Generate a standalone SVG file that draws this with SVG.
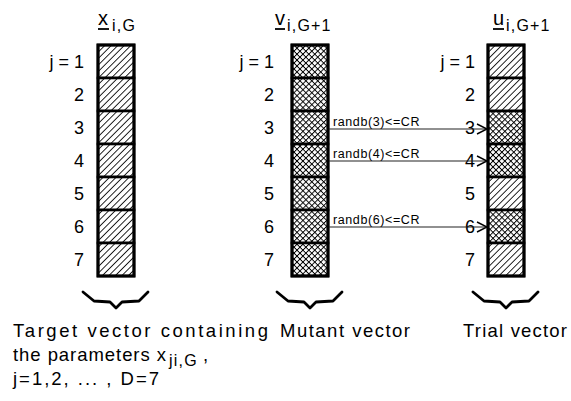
<svg xmlns="http://www.w3.org/2000/svg" width="571" height="401" viewBox="0 0 571 401">
<style>
text{font-family:"Liberation Sans",Arial,sans-serif;fill:#000}
.row{font-size:18px;text-anchor:end}
.hd{font-size:20px}
.sub{font-size:16px;letter-spacing:1.2px}
.cap{font-size:18.5px}
.rl{font-size:12.5px;letter-spacing:0.6px}
.cell{stroke:#000;stroke-width:2.6}
.outer{fill:none;stroke:#000;stroke-width:3}
.brace{fill:none;stroke:#000;stroke-width:2.8;stroke-linejoin:round;stroke-linecap:round}
.conn{stroke:#222;stroke-width:1.1;fill:none}
.head{fill:none;stroke:#000;stroke-width:1.4}
.ul{stroke:#000;stroke-width:1.8}
</style>
<defs>
<pattern id="hatch" width="4.6" height="4.6" patternUnits="userSpaceOnUse" patternTransform="rotate(45)">
<rect width="4.6" height="4.6" fill="#fff"/>
<line x1="0" y1="0" x2="0" y2="4.6" stroke="#000" stroke-width="1.7"/>
</pattern>
<pattern id="cross" width="4.2" height="4.2" patternUnits="userSpaceOnUse" patternTransform="rotate(45)">
<rect width="4.2" height="4.2" fill="#fff"/>
<line x1="0" y1="0" x2="0" y2="4.2" stroke="#000" stroke-width="1.9"/>
<line x1="0" y1="0" x2="4.2" y2="0" stroke="#000" stroke-width="1.9"/>
</pattern>
</defs>

<g id="target">
<text class="hd" x="98" y="25">x</text>
<line class="ul" x1="98" y1="29" x2="109" y2="29"/>
<text class="sub" x="112" y="31">i,G</text>
<rect class="cell" x="98" y="45" width="36" height="33" fill="url(#hatch)"/>
<rect class="cell" x="98" y="78" width="36" height="33" fill="url(#hatch)"/>
<rect class="cell" x="98" y="111" width="36" height="33" fill="url(#hatch)"/>
<rect class="cell" x="98" y="144" width="36" height="33" fill="url(#hatch)"/>
<rect class="cell" x="98" y="177" width="36" height="33" fill="url(#hatch)"/>
<rect class="cell" x="98" y="210" width="36" height="33" fill="url(#hatch)"/>
<rect class="cell" x="98" y="243" width="36" height="33" fill="url(#hatch)"/>
<rect class="outer" x="98" y="45" width="36" height="231"/>
<text class="row" x="84" y="68">j = 1</text>
<text class="row" x="84" y="101">2</text>
<text class="row" x="84" y="134">3</text>
<text class="row" x="84" y="167">4</text>
<text class="row" x="84" y="200">5</text>
<text class="row" x="84" y="233">6</text>
<text class="row" x="84" y="266">7</text>
<polyline class="brace" points="83,292 94,301 110,302 116,308 122,302 139,301 148,292"/>
<text class="cap" x="13" y="337" textLength="255" lengthAdjust="spacing">Target vector containing</text>
<text class="cap" x="13" y="361" textLength="153" lengthAdjust="spacing">the parameters x</text>
<text class="sub" x="169" y="366" letter-spacing="0.4">ji,G</text>
<text class="cap" x="203" y="361">,</text>
<text class="cap" x="13" y="385" textLength="146" lengthAdjust="spacing">j=1,2, ... , D=7</text>
</g>

<g id="mutant">
<text class="hd" x="275" y="25">v</text>
<line class="ul" x1="275" y1="29" x2="285" y2="29"/>
<text class="sub" x="287" y="31">i,G+1</text>
<rect class="cell" x="292" y="45" width="36" height="33" fill="url(#cross)"/>
<rect class="cell" x="292" y="78" width="36" height="33" fill="url(#cross)"/>
<rect class="cell" x="292" y="111" width="36" height="33" fill="url(#cross)"/>
<rect class="cell" x="292" y="144" width="36" height="33" fill="url(#cross)"/>
<rect class="cell" x="292" y="177" width="36" height="33" fill="url(#cross)"/>
<rect class="cell" x="292" y="210" width="36" height="33" fill="url(#cross)"/>
<rect class="cell" x="292" y="243" width="36" height="33" fill="url(#cross)"/>
<rect class="outer" x="292" y="45" width="36" height="231" stroke-width="3.6"/>
<text class="row" x="274" y="68">j = 1</text>
<text class="row" x="274" y="101">2</text>
<text class="row" x="274" y="134">3</text>
<text class="row" x="274" y="167">4</text>
<text class="row" x="274" y="200">5</text>
<text class="row" x="274" y="233">6</text>
<text class="row" x="274" y="266">7</text>
<polyline class="brace" points="277,292 288,301 304,302 310,308 316,302 333,301 342,292"/>
<text class="cap" x="280" y="337" textLength="130" lengthAdjust="spacing">Mutant vector</text>
</g>

<g id="trial">
<text class="hd" x="493" y="25">u</text>
<line class="ul" x1="493" y1="29" x2="504" y2="29"/>
<text class="sub" x="506" y="31">i,G+1</text>
<rect class="cell" x="488" y="45" width="36" height="33" fill="url(#hatch)"/>
<rect class="cell" x="488" y="78" width="36" height="33" fill="url(#hatch)"/>
<rect class="cell" x="488" y="111" width="36" height="33" fill="url(#cross)"/>
<rect class="cell" x="488" y="144" width="36" height="33" fill="url(#cross)"/>
<rect class="cell" x="488" y="177" width="36" height="33" fill="url(#hatch)"/>
<rect class="cell" x="488" y="210" width="36" height="33" fill="url(#cross)"/>
<rect class="cell" x="488" y="243" width="36" height="33" fill="url(#hatch)"/>
<rect class="outer" x="488" y="45" width="36" height="231"/>
<text class="row" x="475" y="68">j = 1</text>
<text class="row" x="475" y="101">2</text>
<text class="row" x="475" y="134">3</text>
<text class="row" x="475" y="167">4</text>
<text class="row" x="475" y="200">5</text>
<text class="row" x="475" y="233">6</text>
<text class="row" x="475" y="266">7</text>
<polyline class="brace" points="473,292 484,301 500,302 506,308 512,302 529,301 538,292"/>
<text class="cap" x="463" y="337" textLength="104" lengthAdjust="spacing">Trial vector</text>
</g>

<g id="connectors">
<line class="conn" x1="329" y1="129" x2="486" y2="129"/>
<polyline class="head" points="477,124 487,129 477,134"/>
<text class="rl" x="333" y="126">randb(3)&lt;=CR</text>
<line class="conn" x1="329" y1="161" x2="486" y2="161"/>
<polyline class="head" points="477,156 487,161 477,166"/>
<text class="rl" x="333" y="158">randb(4)&lt;=CR</text>
<line class="conn" x1="329" y1="227" x2="486" y2="227"/>
<polyline class="head" points="477,222 487,227 477,232"/>
<text class="rl" x="333" y="224">randb(6)&lt;=CR</text>
</g>
</svg>
